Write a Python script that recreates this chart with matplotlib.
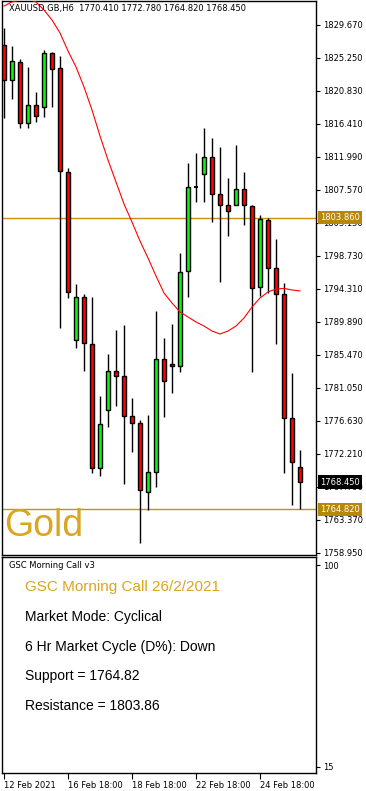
import matplotlib
matplotlib.use("Agg")
import matplotlib.pyplot as plt
import numpy as np

# =========================
# DATA
# =========================

opens = [1827.00, 1822.30, 1824.67, 1816.50, 1818.90, 1818.65, 1825.96, 1823.87,
         1809.98, 1787.44, 1793.20, 1786.90, 1770.29, 1778.06, 1783.33, 1782.62,
         1777.26, 1776.32, 1767.16, 1769.76, 1784.89, 1784.26, 1783.96, 1796.68,
         1808.00, 1809.67, 1812.03, 1807.00, 1805.56, 1805.56, 1807.67, 1805.47,
         1794.58, 1803.55, 1797.08, 1793.64, 1776.99, 1770.41]
highs = [1829.27, 1826.86, 1825.08, 1824.09, 1820.74, 1826.32, 1826.09, 1825.52,
         1810.50, 1794.94, 1793.64, 1793.28, 1779.98, 1785.60, 1788.82, 1789.49,
         1779.71, 1776.76, 1777.43, 1791.36, 1787.71, 1789.62, 1799.09, 1811.15,
         1812.49, 1815.91, 1814.58, 1813.33, 1809.14, 1813.60, 1809.94, 1805.56,
         1804.22, 1803.86, 1800.97, 1795.07, 1783.10, 1772.78]
lows = [1817.20, 1819.76, 1815.83, 1815.83, 1816.72, 1817.31, 1818.65, 1789.13,
        1793.10, 1786.37, 1783.37, 1769.62, 1769.30, 1775.87, 1778.64, 1768.15,
        1772.48, 1760.33, 1764.71, 1767.75, 1777.13, 1780.42, 1783.23, 1793.20,
        1806.00, 1806.00, 1803.32, 1795.29, 1801.45, 1805.56, 1802.88, 1783.23,
        1793.37, 1793.73, 1787.00, 1769.62, 1765.38, 1764.82]
closes = [1822.30, 1824.85, 1816.50, 1818.90, 1817.52, 1825.96, 1823.74, 1810.11,
          1793.91, 1793.20, 1787.04, 1770.29, 1776.19, 1783.33, 1782.62, 1777.26,
          1776.32, 1767.38, 1769.76, 1784.89, 1781.95, 1783.96, 1796.55, 1807.97,
          1808.00, 1812.03, 1807.00, 1805.56, 1804.80, 1807.67, 1805.56, 1794.48,
          1803.65, 1797.08, 1793.64, 1776.99, 1771.10, 1768.45]

ma_values = [1832.21, 1832.75, 1833.02, 1833.15, 1832.75, 1831.68, 1830.34, 1828.60,
             1826.19, 1824.05, 1821.37, 1818.29, 1814.80, 1811.59, 1808.64, 1805.70,
             1803.28, 1800.74, 1798.46, 1796.05, 1793.77, 1792.43, 1791.23, 1790.56,
             1789.89, 1789.35, 1788.68, 1788.28, 1788.68, 1789.35, 1790.42, 1791.90,
             1793.10, 1793.91, 1794.31, 1794.38, 1794.18, 1794.04]

price_ticks = [1829.670, 1825.250, 1820.830, 1816.410, 1811.990, 1807.570,
               1803.150, 1798.730, 1794.310, 1789.890, 1785.470, 1781.050,
               1776.630, 1772.210, 1767.790, 1763.370, 1758.950]

time_ticks = [0, 8, 16, 24, 32]
time_labels = ["12 Feb 2021", "16 Feb 18:00", "18 Feb 18:00",
               "22 Feb 18:00", "24 Feb 18:00"]

resistance = 1803.86
support = 1764.82
last_close = 1768.45

title = "XAUUSD.GB,H6  1770.410 1772.780 1764.820 1768.450"
panel_lines = [
    "Market Mode: Cyclical",
    "6 Hr Market Cycle (D%): Down",
    "Support = 1764.82",
    "Resistance = 1803.86",
]

# =========================
# FIGURE
# =========================

W, H = 366, 791
fig = plt.figure(figsize=(W / 100, H / 100), dpi=100)
fig.patch.set_facecolor("white")

GOLD_LINE = "#c8900c"
GOLD_BOX = "#b8860b"
GOLD_TEXT = "#daa520"
AX_FONT = "DejaVu Sans"

ax = fig.add_axes([2 / W, 1 - 555 / H, 314 / W, 554 / H])
ind = fig.add_axes([2 / W, 1 - 773 / H, 314 / W, 216 / H])

# =========================
# CANDLES
# =========================

x = np.arange(len(opens))
body_w = 0.55

for i in x:
    o, h, l, c = opens[i], highs[i], lows[i], closes[i]
    ax.vlines(i, l, h, color="black", linewidth=1, zorder=3)
    if abs(c - o) < 0.05:
        ax.hlines(o, i - body_w / 2, i + body_w / 2, color="black",
                  linewidth=1.5, zorder=4)
        continue
    color = "#00ff00" if c > o else "#ff0000"
    ax.bar(i, abs(c - o), bottom=min(o, c), width=body_w, color=color,
           edgecolor="black", linewidth=1, zorder=4)

ax.plot(x, ma_values, color="red", linewidth=0.8, zorder=5)

ax.axhline(resistance, color=GOLD_LINE, linewidth=1, zorder=2)
ax.axhline(support, color=GOLD_LINE, linewidth=1, zorder=2)

ax.set_xlim(-0.25, 39)
ax.set_ylim(1758.68, 1832.88)

ax.yaxis.tick_right()
ax.set_yticks(price_ticks)
ax.set_yticklabels([f"{p:.3f}" for p in price_ticks])
ax.tick_params(axis="y", direction="out", length=3, width=0.8, pad=2,
               labelsize=6)
ax.set_xticks([])
for lbl in ax.get_yticklabels():
    lbl.set_fontfamily(AX_FONT)
for s in ax.spines.values():
    s.set_linewidth(1)
    s.set_color("black")

ax.text(7 / 314, 1 - 8 / 554, title, transform=ax.transAxes, fontsize=6,
        family=AX_FONT, va="center", ha="left", zorder=6)

ax.text(9 / 314, 1761.2, "Gold", fontsize=27, color=GOLD_TEXT,
        family="Liberation Sans", va="baseline", ha="left", zorder=6)

# price boxes on the right scale
ytr = ax.get_yaxis_transform()
for val, bg in [(resistance, GOLD_BOX), (support, GOLD_BOX),
                (last_close, "black")]:
    ax.text(1.012, val, f"{val:.3f}", transform=ytr, fontsize=6,
            family=AX_FONT, color="white", va="center", ha="left",
            clip_on=False, zorder=10,
            bbox=dict(boxstyle="square,pad=0.25", facecolor=bg,
                      edgecolor="none"))

# =========================
# INDICATOR PANEL
# =========================

ind.set_xlim(-0.25, 39)
ind.set_ylim(12.47, 103.37)
ind.yaxis.tick_right()
ind.set_yticks([100, 15])
ind.set_yticklabels(["100", "15"])
ind.tick_params(axis="y", direction="out", length=3, width=0.8, pad=2,
                labelsize=6)
ind.set_xticks(time_ticks)
ind.set_xticklabels(time_labels)
ind.tick_params(axis="x", direction="out", length=4, width=0.8, pad=2,
                labelsize=6)
for lbl in ind.get_xticklabels():
    lbl.set_horizontalalignment("left")
    lbl.set_fontfamily(AX_FONT)
for lbl in ind.get_yticklabels():
    lbl.set_fontfamily(AX_FONT)
for s in ind.spines.values():
    s.set_linewidth(1)
    s.set_color("black")

ind.text(7 / 314, 1 - 9 / 216, "GSC Morning Call v3", transform=ind.transAxes,
         fontsize=6, family=AX_FONT, va="center", ha="left")

ind.text(23 / 314, 1 - 30 / 216, "GSC Morning Call 26/2/2021",
         transform=ind.transAxes, fontsize=11, color=GOLD_TEXT,
         family="Liberation Sans", va="center", ha="left")

for j, line in enumerate(panel_lines):
    ind.text(23 / 314, 1 - (60 + 29.7 * j) / 216, line,
             transform=ind.transAxes, fontsize=10, color="black",
             family="Liberation Sans", va="center", ha="left")

fig.savefig("out.png", dpi=100)
